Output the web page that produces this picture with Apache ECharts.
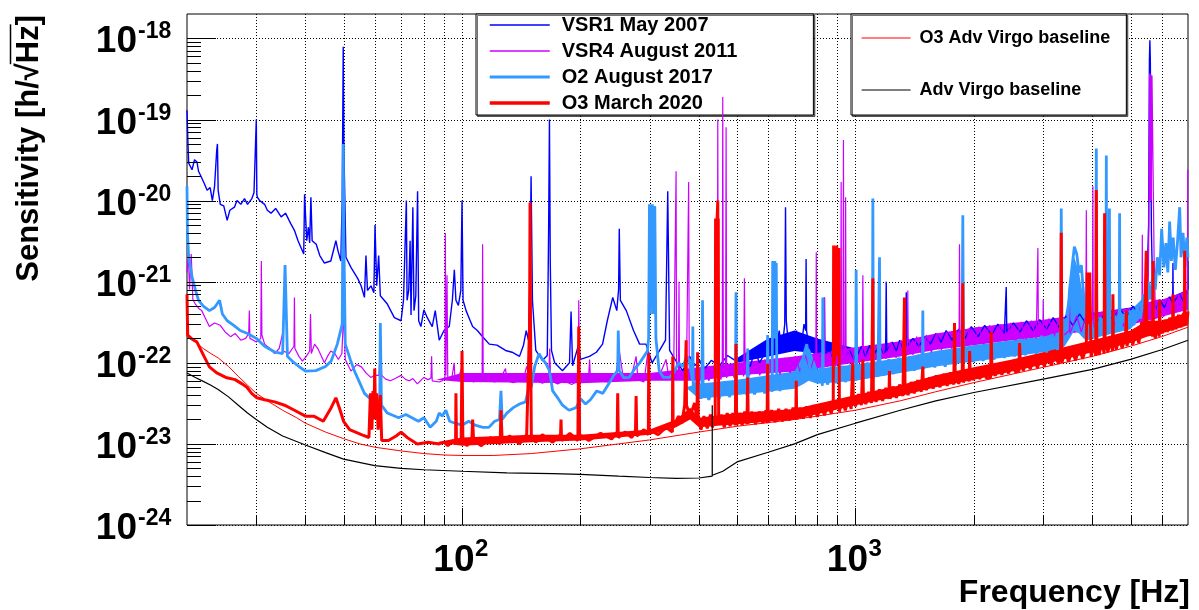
<!DOCTYPE html>
<html><head><meta charset="utf-8">
<script src="https://cdn.jsdelivr.net/npm/echarts@6/dist/echarts.min.js"></script>
<style>html,body{margin:0;padding:0;background:#fff}#c{width:1199px;height:610px}</style>
</head><body><div id="c"></div>
<script>
const FONT = '"Liberation Sans", Arial, Helvetica, sans-serif';

// ---- data: [frequency Hz, sensitivity] ----
const vsr1 = [[20,1.3e-19],[20.1,5.5e-20],[20.2,2.9e-20],[20.6,2.4e-20],[20.9,3.2e-20],[21.2,3e-20],[21.4,2.3e-20],[21.7,2e-20],[22.1,1.65e-20],[22.5,1.34e-20],[22.9,1.45e-20],[23.2,1e-20],[23.5,1.5e-20],[23.8,4.2e-20],[23.9,5e-20],[24.0,1.34e-20],[24.3,9e-21],[24.8,8.6e-21],[25.3,5.7e-21],[25.7,7.6e-21],[26.4,8.3e-21],[26.8,1e-20],[27.4,9e-21],[28,1.06e-20],[28.5,9e-21],[29.2,1.05e-20],[29.6,1.25e-20],[29.9,1.3e-20],[30.0,1e-19],[30.1,1.2e-20],[30.2,1.1e-20],[30.6,1e-20],[31.5,9e-21],[32,7.6e-21],[32.7,7e-21],[33.6,8e-21],[34.7,6.3e-21],[35.6,7e-21],[36.7,5.2e-21],[37.5,4.3e-21],[38.3,3.2e-21],[39.6,2.2e-21],[39.8,1.2e-20],[40.1,1.2e-20],[40.3,3.2e-21],[40.7,4.7e-21],[41,3e-21],[41.3,1.1e-20],[41.6,3.2e-21],[42.6,2.9e-21],[43.5,2.1e-21],[44.7,1.7e-21],[46.4,1.8e-21],[47.8,3.2e-21],[48.4,2.4e-21],[49.2,1.8e-21],[49.6,1e-20],[49.9,7.9e-19],[50.1,4.2e-20],[50.7,2e-21],[52.2,1.5e-21],[54.3,1.1e-21],[55.4,8.9e-22],[56.5,6.4e-22],[57,2.1e-21],[57.5,7.8e-22],[58.7,8.9e-22],[59.7,7.3e-22],[60.1,5e-21],[60.7,8.9e-22],[61.4,2.1e-21],[62,6.7e-22],[64.6,5.3e-22],[67.3,3.6e-22],[70,3.3e-22],[71,5.9e-22],[72.2,1e-20],[72.5,5.9e-22],[73.2,7.8e-22],[73.8,3.2e-21],[74.2,3.9e-22],[75,8.3e-21],[75.5,4.4e-22],[76.3,6.7e-22],[77.1,1.3e-20],[77.6,3.3e-22],[78.6,2.8e-22],[80,4.5e-22],[81.6,3.6e-22],[84,2.8e-22],[85.5,4.4e-22],[87.5,1.9e-22],[90,2.5e-22],[92.8,2.8e-22],[94.5,5.9e-22],[95.6,1.4e-21],[96.5,5.9e-22],[97.9,5.1e-22],[99.3,7.8e-22],[100,1e-20],[100.6,5.9e-22],[102.4,4.4e-22],[104.4,3.5e-22],[106.4,2.8e-22],[109.4,2.5e-22],[112.8,2.1e-22],[117.3,1.7e-22],[122.7,1.65e-22],[129,1.42e-22],[134,1.35e-22],[140,1.2e-22],[143.3,1.65e-22],[145.6,2.5e-22],[147.5,1.9e-22],[148.8,1e-21],[149.8,2e-20],[151,5.9e-22],[154,1.42e-22],[160,1.07e-22],[164.7,1.23e-22],[166,4.3e-21],[166.8,1e-19],[167.6,1.8e-21],[168.8,1.42e-22],[172,1e-22],[180,8e-23],[187.6,1e-22],[189.3,4.3e-22],[191,9.2e-23],[198,1.7e-22],[200,1.1e-22],[210.8,1.2e-22],[219.5,1.35e-22],[227.6,1.7e-22],[234,3.3e-22],[241.6,6.4e-22],[247.4,4.4e-22],[250,8e-22],[251,4.5e-21],[252.6,5.9e-22],[261.5,4.4e-22],[272.8,2.5e-22],[282.7,1.7e-22],[293.4,1.7e-22],[304.2,1e-22],[317.8,1.42e-22],[329,1.9e-22],[333.3,1.3e-20],[337,1.42e-22],[349,1.07e-22],[364,8e-23],[378.8,1.2e-22],
[390,9.2e-23],[402,1.07e-22],[414,8.5e-23],[430,1.07e-22],[451,9.2e-23],[473,1.23e-22],[494,1.07e-22],[519,1.14e-22],[540,9e-23],[555,1.42e-22],[570,1e-22],[584,1.23e-22],[604,1.9e-22],[612,1.2e-22],[620,3.3e-22],[630,1.6e-22],[640,2.5e-22],[650,1.4e-22],[661,3e-22],[664,8.3e-21],[667,3.3e-22],[676,1.6e-22],[684,2.2e-22],[695,1.5e-22],[708,2.5e-22],[718,1.4e-22],[729,1.65e-22],[740,3e-22],[747,2.5e-22],[749,1.9e-21],[751,2.5e-22],[762,1.5e-22],[772,1.65e-22],[785,1.3e-22],[800,1.9e-22],[815,1.2e-22],[826,1.6e-22],[832,1.3e-22],[834,6.4e-22],[836,1.3e-22],[860,1.42e-22],[880,1.1e-22],[910,1.65e-22],[940,1.2e-22],[967,1.42e-22],[990,1.1e-22],[1001,1.3e-22],[1004,6.4e-22],[1007,1.2e-22],[1036,1.6e-22],[1060,1.2e-22],[1086,1.65e-22],[1110,1.25e-22],[1152,1.6e-22],[1180,1.3e-22],[1193,1.4e-22],[1197,1e-21],[1201,1.4e-22],[1240,1.8e-22],[1270,1.4e-22],[1295,1.9e-22],[1320,1.5e-22],[1342,1.6e-22],[1346,7.4e-22],[1350,1.6e-22],[1400,2e-22],[1450,1.6e-22],[1500,2.1e-22],[1550,1.7e-22],[1600,2.3e-22],[1650,1.8e-22],[1700,2.5e-22],[1760,1.9e-22],[1830,2.6e-22],[1900,2e-22],[1970,2.8e-22],[2050,2.1e-22],[2130,2.9e-22],[2220,2.2e-22],[2300,3e-22],[2390,2.3e-22],[2408,2.4e-22],[2416,8.6e-22],[2424,2.4e-22],[2520,3.1e-22],[2620,2.4e-22],[2720,3.3e-22],[2830,2.5e-22],[2940,3.4e-22],[3060,2.6e-22],[3180,3.6e-22],[3300,2.7e-22],[3430,3.8e-22],[3570,2.9e-22],[3710,4e-22],[3860,3e-22],[4010,4.2e-22],[4170,3.2e-22],[4340,4.4e-22],[4510,3.4e-22],[4690,4.7e-22],[4880,3.6e-22],[5070,5e-22],[5270,3.9e-22],[5400,5.5e-22],[5500,7.8e-22],[5560,5.2e-21],[5585,5.4e-19],[5600,9.5e-19],[5615,5.4e-19],[5650,4.3e-21],[5700,5.9e-22],[5800,4.5e-22],[5930,6e-22],[6100,4.8e-22],[6280,6.5e-22],[6400,5.5e-22],[6410,1.7e-21],[6420,5.5e-22],[6660,7e-22],[6850,5.5e-22],[6985,8e-22],[6993,1.8e-21],[7000,8e-22]];

const vsr4 = [[20,1.3e-21],[20.15,2.2e-21],[20.3,8e-22],[20.5,2.2e-21],[20.7,6e-22],[21,5.3e-22],[21.5,4.6e-22],[21.8,4.4e-22],[22.3,3.5e-22],[22.8,2.8e-22],[23.5,3.1e-22],[24.3,2.9e-22],[25,2.4e-22],[25.8,2.1e-22],[26.5,2.3e-22],[27.4,1.9e-22],[28.2,2e-22],[28.7,2.3e-22],[28.8,4.4e-22],[28.9,2e-22],[29.5,1.9e-22],[30,1.8e-22],[30.8,2e-22],[30.9,1.8e-21],[31,2.2e-22],[31.5,1.7e-22],[32.5,1.5e-22],[33.4,1.3e-22],[34.3,1.5e-22],[35,2.3e-22],[35.1,1.4e-22],[36.3,1.3e-22],[37.4,1.6e-22],[37.5,6.4e-22],[37.6,1.5e-22],[38.5,1.2e-22],[39.3,1.05e-22],[40.2,1.2e-22],[41,1.4e-22],[41.2,4e-22],[41.4,1.3e-22],[42.2,1.7e-22],[43,1.5e-22],[44.7,1e-22],[45.5,1.2e-22],[46.4,1.4e-22],[47.5,1.3e-22],[48.5,1.1e-22],[49.5,1.3e-22],[50,4e-22],[50.5,1.1e-22],[52.2,7.9e-23],[54,9.5e-23],[55.5,8.9e-23],[57,7.5e-23],[58.6,6.6e-23],[60,7e-23],[61.5,7e-23],[62,1.7e-22],[62.5,7e-23],[64,6.3e-23],[65.8,6e-23],[68,6.5e-23],[70,7e-23],[72,6.2e-23],[73.5,6e-23],[75,6.4e-23],[77,5.5e-23],[80,6.6e-23],[82,6.2e-23],[83.4,6.5e-23],[83.7,1.2e-22],[84,6e-23],[87.5,5.8e-23],[89,6e-23],[90.5,6.5e-23],[90.7,4e-21],[91,7e-23],[91.6,1.2e-21],[92,6.5e-23],[94,6e-23],[95.5,1e-22],[96,6e-23],[98,6.5e-23],[100,9e-23],[101,6e-23],[104,6.3e-23],[107,5.8e-23],[110,6.2e-23],[112.5,6.5e-23],[112.8,2.9e-21],[113.2,6.8e-23],[117,6.2e-23],[121,5.8e-23],[125,6.3e-23],[129,8.5e-23],[130,6e-23],[135,5.7e-23],[140,6e-23],[144,7e-23],[146,9e-23],[148.3,7e-23],[149,2.5e-22],[150,7e-23],[155,6e-23],[160,5.6e-23],[166,6e-23],[167,1.5e-22],[168,6e-23],[175,5.5e-23],[182,6e-23],[190,5.4e-23],[197.5,6e-23],[198,5.9e-22],[199,6e-23],[206,6.3e-23],[210,7.5e-23],[211,1.1e-22],[212,6.5e-23],[222,6e-23],[235,5.8e-23],[245,6.2e-23],[251,1.4e-22],[257,6.5e-23],[268,6e-23],[277,1.2e-22],[280,6.2e-23],[290,5.8e-23],[297,1.4e-22],[300,6.5e-23],[315,6.3e-23],[330,1.1e-22],[335,6.8e-23],[345,7e-23],[349,7e-23],[350,2.3e-20],[351,8e-23],[355,7.5e-23],[356,1e-21],[357,7.5e-23],[365,7e-23],[372,7.5e-23],[376.7,1.7e-20],[378,8e-23],[385,7.5e-23],
[400,5.6e-23],[412,8.8e-23],[424,6e-23],[437,9e-23],[444,6.5e-23],[445.5,8e-23],[446.7,1e-19],[448,8e-23],[455,6.2e-23],[458.5,8e-23],[459.9,1.9e-19],[461.5,9e-23],[467.5,8e-23],[469,8e-20],[470.5,6.5e-23],[478,9.5e-23],[492,6.5e-23],[495.5,8e-23],[497,2e-22],[498.5,7e-23],[507,1e-22],[520,6.8e-23],[522,1.1e-21],[524,1e-22],[538,7e-23],[554,1.05e-22],[571,7e-23],[588,1.1e-22],[606,7.5e-23],[624,1.12e-22],[643,7.2e-23],[662,1.15e-22],[682,7.5e-23],[702,1.2e-22],[723,7.8e-23],[745,1.25e-22],[767,8e-23],[790,1.3e-22],[793,1e-22],[795,2.3e-21],[797,9e-23],[814,1.35e-22],[826,8.5e-23],[832,1e-22],[834,6.4e-22],[836,1.1e-22],[850,9e-23],[870,1.4e-22],[890,9e-23],[905,1.45e-22],[917,1e-22],[919.5,1.7e-20],[922,1e-22],[929.5,1.2e-22],[932,5.6e-20],[934.5,1.4e-22],[941.5,1e-22],[944,1.1e-20],[946.5,1e-22],[960,1.5e-22],[980,9.5e-23],[1000,1.55e-22],[1020,1e-22],[1041,1.1e-22],[1044,1.2e-21],[1047,1.6e-22],[1075,1.05e-22],[1100,1.65e-22],[1126,1.08e-22],[1160,1.7e-22],[1195,1.12e-22],[1231,1.8e-22],[1268,1.15e-22],[1306,1.9e-22],[1340,1.2e-22],[1355,1.3e-22],[1358,7.8e-22],[1361,2e-22],[1400,1.25e-22],[1430,2.1e-22],[1470,1.3e-22],[1514,2.2e-22],[1559,1.35e-22],[1606,2.3e-22],[1654,1.45e-22],[1704,2.4e-22],[1755,1.5e-22],[1808,2.5e-22],[1833,1.6e-22],[1838,2.9e-21],[1843,2.6e-22],[1900,1.6e-22],[1950,2.7e-22],[2000,1.65e-22],[2060,2.8e-22],[2120,1.7e-22],[2190,2.9e-22],[2260,1.8e-22],[2330,3e-22],[2400,1.85e-22],[2480,3.1e-22],[2560,1.9e-22],[2640,3.2e-22],[2720,1.95e-22],[2800,3.3e-22],[2880,2e-22],[2901,2.1e-22],[2908,2.6e-21],[2915,3.3e-22],[2960,2.05e-22],[2993,2.2e-22],[3000,6e-22],[3007,2.1e-22],[3100,3.5e-22],[3200,2.1e-22],[3300,3.6e-22],[3400,2.2e-22],[3490,2.5e-22],[3500,5e-22],[3510,2.3e-22],[3650,3.8e-22],[3750,2.4e-22],[3850,3.8e-22],[3861,7.6e-21],[3872,2.4e-22],[3950,3.9e-22],[4002,2.5e-22],[4012,1.5e-20],[4022,2.5e-22],[4150,4.1e-22],[4270,2.6e-22],[4390,4.3e-22],[4520,2.7e-22],[4650,4.5e-22],[4790,2.8e-22],[4940,4.7e-22],[5090,2.95e-22],[5240,5e-22],[5345,3.2e-22],[5358,3.8e-21],[5371,3.2e-22],[5450,5.5e-22],[5540,4e-22],[5565,4e-21],[5591,3.7e-19],[5610,1e-20],[5630,3.6e-19],[5650,1e-20],[5670,3.5e-19],[5700,3.5e-19],[5740,2e-21],[5790,3.5e-22],[5900,6e-22],[6070,3.7e-22],[6250,6.3e-22],[6440,4e-22],[6640,7e-22],[6840,4.5e-22],[6975,7.8e-22],[6990,2.4e-20],[7000,2.4e-20]];

const o2 = [[20,1.5e-20],[20.05,4e-21],[20.2,2e-21],[20.6,1.15e-21],[21,8e-22],[21.4,5.9e-22],[22,5e-22],[22.8,4.4e-22],[23.5,4.8e-22],[24.2,5.9e-22],[24.6,4e-22],[25.3,3.3e-22],[26.3,2.9e-22],[27.3,2.5e-22],[28.5,2.3e-22],[30,2e-22],[31.5,1.6e-22],[33.5,1.35e-22],[35,1.3e-22],[35.5,1.6e-21],[36,1.2e-22],[37,1.05e-22],[38.5,9e-23],[40,7.9e-23],[42.5,8e-23],[45,9e-23],[46.5,1.05e-22],[48.2,1.7e-22],[49.6,3e-22],[49.8,5e-21],[49.9,5e-20],[50.1,3e-21],[50.5,1.7e-22],[52,1.1e-22],[53.3,7.9e-23],[56.5,4.2e-23],[60,3.2e-23],[61.8,3.3e-23],[62,3.1e-22],[62.4,3e-23],[64.6,2.4e-23],[69,2.1e-23],[72,2.3e-23],[77.5,1.9e-23],[80,2.1e-23],[83,1.6e-23],[86,1.9e-23],[87.5,2.4e-23],[89,2.2e-23],[91,2.6e-23],[93,1.9e-23],[96,1.8e-23],[100,1.7e-23],[104,1.9e-23],[108,1.7e-23],[113,1.6e-23],[117,1.6e-23],[121,1.9e-23],[124.5,2e-23],[125.6,4.5e-23],[126.5,2e-23],[130,2.4e-23],[135,2.8e-23],[140,3.1e-23],[145,3.3e-23],[148,5e-23],[148.7,1e-22],[150,5e-23],[153,9e-23],[157,1.3e-22],[160,1.1e-22],[163,1e-22],[166.8,8e-23],[170,4.5e-23],[175,3.7e-23],[180,3e-23],[187,2.6e-23],[195,2.8e-23],[200,3.6e-23],[206,3.1e-23],[212,3.5e-23],[220,4.5e-23],[228,4.2e-23],[236,5.5e-23],[243,7e-23],[248.7,8e-23],[249.5,2.5e-22],[251,8e-23],[258,6.5e-23],[266,6.6e-23],[275,8.5e-23],[283,1e-22],[290,1.2e-22],[296,1.4e-22],[298,2e-22],[299.5,9e-21],[300.8,4e-22],[302,8e-21],[303.3,5e-22],[304.6,9e-21],[306,4e-22],[307.4,8e-21],[309,8.5e-21],[311,2e-22],[317,8e-23],[325,6.6e-23],[337,6.6e-23],[345,7.5e-23],[355,1e-22],[365,9e-23],[372,1.2e-22],[378,1.1e-22],
[385,6e-23],[386,2.8e-22],[387,4.5e-23],[396,6.2e-23],[404,3.6e-23],[407,5e-23],[408.6,5.9e-22],[410,5.5e-23],[424,3.5e-23],[437,5.6e-23],[450,3.6e-23],[464,5.8e-23],[478,3.8e-23],[495.5,6e-23],[497,7.4e-22],[498.5,4e-23],[515,6.2e-23],[530,4e-23],[532,1.5e-22],[534,6.3e-23],[554,4.1e-23],[571,6.5e-23],[588,4.2e-23],[596,5e-23],[598,2.2e-22],[600,6.8e-23],[614,4.4e-23],[616,1.8e-21],[618,2e-22],[620,1.7e-21],[622,2e-22],[624,1.8e-21],[626,2e-22],[629,1.7e-21],[631,7e-23],[643,4.5e-23],[662,7.2e-23],[682,4.8e-23],[702,7.8e-23],[723,5.5e-23],[740,1.3e-22],[752,1.7e-22],[767,8e-23],[790,6e-23],[814,8.5e-23],[824,5.2e-23],[826,6.4e-22],[828,8.5e-23],[850,5.4e-23],[870,9e-23],[895,5.6e-23],[920,9.2e-23],[943,5.8e-23],[971,9.5e-23],[1001,6e-23],[1004,1.4e-21],[1007,9.8e-23],[1040,6.2e-23],[1070,1e-22],[1104,6.5e-23],[1107,1.06e-20],[1110,1.05e-22],[1140,6.8e-23],[1148,7e-23],[1151,2e-21],[1154,1.05e-22],[1180,7e-23],[1215,1.1e-22],[1250,7.3e-23],[1290,1.15e-22],[1330,7.6e-23],[1370,1.2e-22],[1410,8e-23],[1450,1.25e-22],[1479,8.2e-23],[1483,4.4e-22],[1487,8.4e-23],[1540,1.3e-22],[1590,8.8e-23],[1640,1.4e-22],[1690,9e-23],[1740,1.45e-22],[1790,9.3e-23],[1866,1.5e-22],[1874,6.6e-21],[1882,1e-22],[1930,1.55e-22],[1990,1.03e-22],[2050,1.65e-22],[2110,1.06e-22],[2180,1.7e-22],[2250,1.1e-22],[2320,1.8e-22],[2390,1.15e-22],[2460,1.85e-22],[2540,1.2e-22],[2620,1.95e-22],[2700,1.25e-22],[2790,2e-22],[2880,1.3e-22],[2970,2.15e-22],[3060,1.35e-22],[3160,2.25e-22],[3260,1.45e-22],[3322,2.4e-22],[3334,8e-21],[3346,1.6e-22],[3400,3.5e-22],[3450,2.5e-22],[3500,8e-22],[3550,1.5e-21],[3600,2.7e-21],[3650,2.2e-21],[3700,1.3e-21],[3750,1.6e-21],[3800,7e-22],[3850,4e-22],[3900,2.2e-22],[3960,3.5e-22],[4040,2e-22],[4083,3e-22],[4093,4.4e-20],[4103,2.5e-22],[4200,3.6e-22],[4297,2.2e-22],[4330,3e-22],[4340,3.6e-20],[4350,3.4e-22],[4410,2.5e-22],[4420,8e-21],[4430,2.4e-22],[4560,3.8e-22],[4680,2.6e-22],[4691,7e-21],[4702,2.5e-22],[4800,4e-22],[4900,2.6e-22],[5000,4.4e-22],[5100,2.9e-22],[5200,5e-22],[5300,3.5e-22],[5400,7e-22],[5480,4.5e-22],[5550,1e-21],[5620,6e-22],[5700,1.3e-21],[5780,8e-22],[5850,2e-21],[5929,1.2e-21],[6000,4.5e-21],[6080,1.5e-21],[6150,3e-21],[6220,1.3e-21],[6287,5.5e-21],[6350,1.8e-21],[6420,3.5e-21],[6500,1.4e-21],[6580,3e-21],[6668,8.3e-21],[6720,2e-21],[6800,4e-21],[6880,1.5e-21],[6950,3.5e-21],[7000,2e-21]];

const o3 = [[20,7e-22],[20.08,2.2e-22],[20.5,2e-22],[21.2,1.8e-22],[22.1,1.2e-22],[22.8,8.9e-23],[23.8,7.5e-23],[25.1,6.6e-23],[26.5,6.2e-23],[27.6,5.5e-23],[28.4,5e-23],[29.2,4.2e-23],[30.1,3.7e-23],[31.5,3.5e-23],[33.4,3.3e-23],[35.4,3e-23],[37.5,2.6e-23],[40,2.2e-23],[42,2.2e-23],[44.4,1.9e-23],[46.5,2.8e-23],[47.8,3.7e-23],[49,2.6e-23],[50,1.9e-23],[51.8,1.5e-23],[55.5,1.3e-23],[58,1.2e-23],[58.5,4.2e-23],[59,1.5e-23],[59.4,4.5e-23],[59.7,2e-23],[60,8.5e-23],[60.3,2e-23],[60.7,4.2e-23],[61.2,1.5e-23],[62,4e-23],[62.5,1.1e-23],[65,1.1e-23],[68,1.25e-23],[70,1.4e-23],[72.5,1.2e-23],[77,1e-23],[82,1.05e-23],[87.5,1e-23],[90,1.05e-23],[92,9.5e-24],[95,1.1e-23],[96.3,1e-23],[96.5,4.2e-23],[96.8,1e-23],[99.5,1.1e-23],[100,1.4e-22],[100.5,1.1e-23],[103,9.5e-24],[106,1.2e-23],[106.4,2e-23],[107,1.1e-23],[112,9.5e-24],[118,1.2e-23],[125,1e-23],[125.6,2.6e-23],[126.5,1.05e-23],[132,1.25e-23],[140,1e-23],[146,1.3e-23],[148.5,3e-22],[148.9,9.5e-21],[149.3,3e-22],[150,1.3e-23],[154,1.05e-23],[160,1.3e-23],[170,1.05e-23],[178,1.3e-23],[178.5,2e-23],[179,1.1e-23],[188,1.35e-23],[197,1.1e-23],[198,2.8e-22],[199,1.3e-23],[210,1.1e-23],[225,1.35e-23],[240,1.15e-23],[248,1.4e-23],[248.7,4.2e-23],[249.5,1.2e-23],[260,1.4e-23],[270,1.2e-23],[276,1.45e-23],[277,3.9e-23],[278,1.25e-23],[290,1.5e-23],[297.5,1.3e-23],[298.3,1.3e-22],[299,1.5e-23],[315,1.3e-23],[330,1.6e-23],[342.5,1.4e-23],[343.2,1.2e-22],[344,1.6e-23],[355,2.2e-23],[362,1.8e-23],[368,3e-23],[371.2,1.9e-22],[372,3e-23],[380,2.2e-23],[390,3.2e-23],[395.5,2e-23],[397,1.35e-22],[398.5,2.2e-23],
[405,1.5e-23],[412,2.2e-23],[420,1.55e-23],[428,2.3e-23],[433,1.6e-23],[440,2.2e-23],[441,6e-21],[442,1e-22],[443,6e-21],[444,1e-22],[445,6e-21],[446.7,1e-20],[447.5,2e-22],[448,6e-21],[449,1.8e-23],[456,2.3e-23],[464,1.6e-23],[472,2.4e-23],[480,1.65e-23],[488,2.4e-23],[495,1.7e-23],[497,1.7e-22],[499,1.7e-23],[507,2.4e-23],[515,1.7e-23],[523,2.5e-23],[530,1.75e-23],[532,6.6e-23],[534,1.8e-23],[545,2.5e-23],[557,1.75e-23],[570,2.5e-23],[582,1.8e-23],[592,2.6e-23],[596,1.8e-23],[598,9.7e-23],[600,1.85e-23],[612,2.6e-23],[625,1.85e-23],[638,2.7e-23],[652,1.9e-23],[666,2.7e-23],[680,1.95e-23],[694,2.8e-23],[705,2e-23],[707,6e-23],[709,2e-23],[722,2.8e-23],[737,2.05e-23],[752,2.9e-23],[768,2.1e-23],[784,3e-23],[800,2.15e-23],[817,3.1e-23],[834,2.25e-23],[851,3.2e-23],[868,2.35e-23],[878,3.3e-23],[880,2.8e-21],[884,1e-22],[888,2.5e-21],[892,1.5e-22],[896,2.8e-21],[900,1.2e-22],[904,2.4e-21],[908,2.6e-21],[910,2.5e-23],[925,3.5e-23],[942,2.6e-23],[960,3.7e-23],[975,2.7e-23],[981,2.8e-23],[984,1e-22],[987,3.8e-23],[1000,2.9e-23],[1018,4.1e-23],[1035,3e-23],[1041,3.1e-23],[1044,1.1e-22],[1047,4.2e-23],[1062,3.1e-23],[1080,4.4e-23],[1098,3.2e-23],[1104,3.3e-23],[1107,1.1e-21],[1110,4.5e-23],[1128,3.3e-23],[1150,4.7e-23],[1172,3.4e-23],[1195,4.9e-23],[1216,3.6e-23],[1220,7.9e-23],[1224,3.6e-23],[1245,5.1e-23],[1270,3.7e-23],[1295,5.4e-23],[1320,3.9e-23],[1328,4e-23],[1332,6.4e-22],[1336,5.5e-23],[1360,4e-23],[1385,5.8e-23],[1410,4.2e-23],[1440,6.1e-23],[1470,4.4e-23],[1480,4.5e-23],[1483,9e-23],[1486,6.3e-23],[1515,4.6e-23],[1545,6.6e-23],[1575,4.8e-23],[1605,7e-23],[1640,5e-23],[1675,7.3e-23],[1710,5.2e-23],[1745,7.6e-23],[1778,5.4e-23],[1785,3.1e-22],[1792,7.8e-23],[1830,5.5e-23],[1868,8e-23],[1874,9.6e-22],[1880,5.7e-23],[1910,8.3e-23],[1945,5.9e-23],[1950,1.4e-22],[1955,8.5e-23],[1990,6.1e-23],[2030,8.8e-23],[2070,6.3e-23],[2110,9e-23],[2150,6.5e-23],[2205,6.6e-23],[2213,2.4e-22],[2221,9.3e-23],[2265,6.9e-23],[2310,9.7e-23],[2355,7.1e-23],[2400,1e-22],[2450,7.4e-23],[2500,1.05e-22],[2550,7.7e-23],[2602,7.9e-23],[2612,1.75e-22],[2622,1.1e-22],[2670,8e-23],[2720,1.13e-22],[2780,8.3e-23],[2840,1.18e-22],[2900,8.6e-23],[2960,1.22e-22],[3020,9e-23],[3080,1.27e-22],[3145,9.3e-23],[3210,1.32e-22],[3280,9.7e-23],[3322,1.35e-22],[3334,4e-21],[3346,1e-22],[3410,1.42e-22],[3480,1.03e-22],[3550,1.47e-22],[3625,1.07e-22],[3700,1.53e-22],[3780,1.12e-22],[3860,1.58e-22],[3880,1.3e-21],[3895,3e-22],[3910,1.2e-21],[3925,3e-22],[3940,1.3e-21],[3955,1.3e-21],[3970,1.18e-22],[4030,1.7e-22],[4080,1.22e-22],[4093,1.35e-20],[4106,1.8e-22],[4160,1.25e-22],[4230,1.85e-22],[4285,1.3e-22],[4297,7e-21],[4309,1.9e-22],[4380,1.35e-22],[4450,1.95e-22],[4500,1.4e-22],[4511,7e-22],[4522,2e-22],[4600,1.45e-22],[4680,2.1e-22],[4760,1.52e-22],[4860,2.2e-22],[4879,4.4e-22],[4898,1.6e-22],[4980,2.3e-22],[5070,1.68e-22],[5160,2.45e-22],[5250,1.75e-22],[5340,3.2e-22],[5420,2.1e-22],[5470,2.2e-22],[5483,2.4e-21],[5496,3.4e-22],[5560,2.3e-22],[5630,3.3e-22],[5690,2.1e-22],[5702,1.8e-21],[5714,3e-22],[5780,2e-22],[5860,3.1e-22],[5915,2.1e-22],[5929,5.9e-22],[5943,3.2e-22],[6020,2.3e-22],[6110,3.4e-22],[6200,2.4e-22],[6290,3.6e-22],[6395,2.5e-22],[6410,7e-22],[6425,3.7e-22],[6520,2.6e-22],[6620,3.9e-22],[6720,2.75e-22],[6820,4.1e-22],[6852,2.9e-22],[6866,2.4e-21],[6880,4.2e-22],[6950,3e-22],[7000,4.3e-22]];

const o3Baseline = [[20,2.1e-22],[21,1.8e-22],[22,1.5e-22],[23,1.3e-22],[24,1.15e-22],[25.5,9e-23],[27,6.8e-23],[28.5,5.3e-23],[30,4.2e-23],[32,3.4e-23],[35,2.6e-23],[38,2.1e-23],[40,1.8e-23],[45,1.4e-23],[50,1.16e-23],[55,1e-23],[60,9.1e-24],[70,8.2e-24],[80,7.6e-24],[90,7.3e-24],[100,7.2e-24],[120,7.2e-24],[150,7.6e-24],[200,8.7e-24],[250,1e-23],[300,1.12e-23],[400,1.4e-23],[500,1.65e-23],[700,2e-23],[1000,2.6e-23],[1300,3.4e-23],[1600,4.4e-23],[2000,5.7e-23],[3000,8.8e-23],[4000,1.2e-22],[5000,1.6e-22],[6000,2.1e-22],[7000,2.75e-22]];

const advBaseline = [[20,7.5e-23],[21,6.6e-23],[22,5.9e-23],[23,5.3e-23],[24,4.7e-23],[25.5,3.8e-23],[27,3e-23],[28.5,2.4e-23],[30,2e-23],[32,1.6e-23],[35,1.25e-23],[40,9.7e-24],[45,7.8e-24],[50,6.5e-24],[60,5.4e-24],[70,5e-24],[80,4.8e-24],[100,4.6e-24],[130,4.4e-24],[170,4.3e-24],[200,4.2e-24],[250,4e-24],[300,3.85e-24],[350,3.75e-24],[400,3.8e-24],[432.4,4e-24],[432.5,3e-23],[432.6,4.1e-24],[460,4.6e-24],[500,6e-24],[600,7.9e-24],[700,1e-23],[800,1.3e-23],[1000,1.8e-23],[1300,2.6e-23],[1600,3.4e-23],[2000,4.3e-23],[3000,6.3e-23],[4000,8.3e-23],[5000,1.1e-22],[6000,1.45e-22],[7000,1.9e-22]];

// ---- noise-band envelopes (dense noise seen as filled bands) ----
const vsr1BandF  = [500,600,700,800,1000,1300,1600,2000,3000,4000,5000,6000,7000];
const vsr1BandLo = [1e-22,1.2e-22,1.4e-22,1.3e-22,1.2e-22,1.45e-22,1.7e-22,2e-22,2.5e-22,3e-22,3.6e-22,4.5e-22,5.5e-22];
const vsr1BandHi = [1.15e-22,2e-22,2.5e-22,2e-22,1.5e-22,1.8e-22,2.2e-22,2.7e-22,3.3e-22,4.1e-22,4.8e-22,5.8e-22,8e-22];
const vsr4BandF  = [86,100,200,300,400,500,700,1000,1300,1600,2000,2500,3000,4000,5000,5500,5800,6000,7000];
const vsr4BandLo = [6.2e-23,5.8e-23,5.6e-23,6e-23,6e-23,7e-23,7.8e-23,1e-22,1.2e-22,1.45e-22,1.65e-22,1.9e-22,2.1e-22,2.5e-22,2.95e-22,3.3e-22,3.5e-22,3.7e-22,4.5e-22];
const vsr4BandHi = [6.2e-23,7.5e-23,7.5e-23,7.5e-23,8.8e-23,1e-22,1.2e-22,1.55e-22,1.85e-22,2.3e-22,2.7e-22,3.1e-22,3.4e-22,4.1e-22,4.7e-22,5.5e-22,6e-22,6e-22,7.8e-22];
const o2BandF  = [370,400,500,700,740,760,800,1000,1300,1600,2000,2500,3000,3300,3400,3500,3600,3700,3800,3900,4000,5000,5500];
const o2BandLo = [5e-23,3.6e-23,4e-23,4.8e-23,5.5e-23,6e-23,5.5e-23,6e-23,7.5e-23,9e-23,1.04e-22,1.2e-22,1.35e-22,1.45e-22,1.6e-22,2e-22,2.5e-22,2.3e-22,2e-22,1.9e-22,2e-22,2.6e-22,4.5e-22];
const o2BandHi = [5e-23,5.5e-23,6.2e-23,7.8e-23,1.3e-22,1.6e-22,8.5e-23,9.5e-23,1.15e-22,1.4e-22,1.65e-22,1.9e-22,2.1e-22,2.4e-22,3.5e-22,8e-22,2e-21,1.3e-21,6e-22,3.5e-22,3.5e-22,4.4e-22,7e-22];
const o3BandF  = [86,100,150,200,300,350,380,400,500,700,1000,1300,1600,2000,2500,3000,4000,5000,5500,6000,7000];
const o3BandLo = [1.05e-23,9.5e-24,1.05e-23,1.1e-23,1.3e-23,1.6e-23,2e-23,1.6e-23,1.75e-23,2e-23,3e-23,3.9e-23,5e-23,6.2e-23,7.8e-23,9.5e-23,1.35e-22,1.75e-22,2.1e-22,2.3e-22,2.9e-22];
const o3BandHi = [1.05e-23,1.2e-23,1.3e-23,1.3e-23,1.5e-23,2e-23,2.8e-23,2.1e-23,2.4e-23,2.7e-23,4e-23,5.3e-23,7e-23,8.8e-23,1.1e-22,1.35e-22,1.9e-22,2.5e-22,3.3e-22,3.3e-22,4.2e-22];

// ---- axis ticks ----
const X_MIN = 20, X_MAX = 7000, Y_MIN = 1e-24, Y_MAX = 2e-18;
const xMajorTicks = [100, 1000];
const xMinorTicks = [30,40,50,60,70,80,90,200,300,400,500,600,700,800,900,2000,3000,4000,5000,6000];
const xTickLabels = [[100,'2'],[1000,'3']];
const yDecadeExp = [-24,-23,-22,-21,-20,-19,-18];
const yMinorMult = [2,3,4,5,6,7,8,9];

const names = ['VSR1 May 2007','VSR4 August 2011','O2 August 2017','O3 March 2020','O3 Adv Virgo baseline','Adv Virgo baseline'];
const colors = ['#0000ff','#cc00ff','#3399ff','#ff0000','#ff0000','#000000'];
const widths = [1.4, 1.2, 2.8, 3, 1, 1.2];
const seriesData = [vsr1, vsr4, o2, o3, o3Baseline, advBaseline];
const bands = [[vsr1BandF, vsr1BandLo, vsr1BandHi], [vsr4BandF, vsr4BandLo, vsr4BandHi], [o2BandF, o2BandLo, o2BandHi], [o3BandF, o3BandLo, o3BandHi]];

const chart = echarts.init(document.getElementById('c'));

function gridRender(params, api) {
  const ch = [];
  const p0 = api.coord([X_MIN, Y_MIN]), p1 = api.coord([X_MAX, Y_MAX]);
  const dot = {stroke:'#000', lineWidth:1, lineDash:[1,2]};
  xMajorTicks.concat(xMinorTicks).forEach(f => {
    const x = Math.round(api.coord([f, Y_MIN])[0]) + 0.5;
    ch.push({type:'line', shape:{x1:x, y1:p1[1], x2:x, y2:p0[1]}, style:dot});
  });
  yDecadeExp.forEach(e => {
    const y = Math.round(api.coord([X_MIN, Math.pow(10, e)])[1]) + 0.5;
    ch.push({type:'line', shape:{x1:p0[0], y1:y, x2:p1[0], y2:y}, style:dot});
  });
  return {type:'group', children: ch};
}

function tickRender(params, api) {
  const ch = [];
  const p0 = api.coord([X_MIN, Y_MIN]);
  const left = p0[0], bottom = p0[1];
  const solid = {stroke:'#000', lineWidth:1};
  const L = (x1,y1,x2,y2) => ch.push({type:'line', shape:{x1,y1,x2,y2}, style:solid});
  yDecadeExp.forEach(e => {
    const y = Math.round(api.coord([X_MIN, Math.pow(10, e)])[1]) + 0.5;
    L(left, y, left + 29, y);
    if (e < -18) yMinorMult.forEach(m => {
      const ym = Math.round(api.coord([X_MIN, m * Math.pow(10, e)])[1]) + 0.5;
      L(left, ym, left + 14, ym);
    });
    ch.push({type:'text', x: left - 50, y: y + 3.5, style:{text:'10', font:'bold 37px ' + FONT, fill:'#000', align:'right', verticalAlign:'middle'}});
    ch.push({type:'text', x: left - 49, y: y - 6.5, style:{text:String(e), font:'bold 23px ' + FONT, fill:'#000', align:'left', verticalAlign:'middle'}});
  });
  xMajorTicks.forEach(f => {
    const x = Math.round(api.coord([f, Y_MIN])[0]) + 0.5;
    L(x, bottom, x, bottom - 17);
  });
  xMinorTicks.forEach(f => {
    const x = Math.round(api.coord([f, Y_MIN])[0]) + 0.5;
    L(x, bottom, x, bottom - 10);
  });
  xTickLabels.forEach(([f, ex]) => {
    const x = api.coord([f, Y_MIN])[0];
    ch.push({type:'text', x: x + 12.5, y: bottom + 36, style:{text:'10', font:'bold 37px ' + FONT, fill:'#000', align:'right', verticalAlign:'middle'}});
    ch.push({type:'text', x: x + 13, y: bottom + 24, style:{text:ex, font:'bold 24px ' + FONT, fill:'#000', align:'left', verticalAlign:'middle'}});
  });
  return {type:'group', children: ch};
}

function bandRender(freqs, lo, hi, color) {
  return function (params, api) {
    const pts = [];
    for (let i = 0; i < freqs.length; i++) pts.push(api.coord([freqs[i], hi[i]]));
    for (let i = freqs.length - 1; i >= 0; i--) pts.push(api.coord([freqs[i], lo[i]]));
    return {type:'polygon', shape:{points: pts}, style:{fill: color}};
  };
}

// measure y title for the sqrt overline
const yTitle = 'Sensitivity [h/\u221AHz]';
const TITLE_FONT = 'bold 31px ' + FONT;
const mctx = document.createElement('canvas').getContext('2d');
mctx.font = TITLE_FONT;
const wAll = mctx.measureText(yTitle).width;
const wPre = mctx.measureText('Sensitivity [h/\u221A').width;
const wHz = mctx.measureText('Hz').width;
const yTitleTop = 15, yTitleX = 29;
const olStart = yTitleTop + wAll - wPre + 1, olEnd = yTitleTop + wAll - wPre - wHz - 1;

const series = [{type:'custom', renderItem: gridRender, data:[[X_MIN, Y_MIN]], z:0, silent:true, clip:false}];
names.forEach((n, i) => {
  if (i < 4) {
    const b = bands[i];
    series.push({type:'custom', renderItem: bandRender(b[0], b[1], b[2], colors[i]), data:[[b[0][0], b[1][0]]], z:2, silent:true, clip:true});
  }
  series.push({
    name: n, type: 'line', data: seriesData[i], symbol: 'none', showSymbol: false,
    lineStyle: {color: colors[i], width: widths[i]}, itemStyle: {color: colors[i]},
    z: 2, silent: true, clip: true, animation: false
  });
});
series.push({type:'custom', renderItem: tickRender, data:[[X_MIN, Y_MIN]], z:10, silent:true, clip:false});

const legendCommon = {
  orient: 'vertical', borderColor: '#000', borderWidth: 1, backgroundColor: '#fff',
  shadowColor: 'rgba(0,0,0,0.55)', shadowOffsetX: 1.5, shadowOffsetY: 1.5, shadowBlur: 0,
  selectedMode: false, z: 1, align: 'left',
  itemStyle: {opacity: 0, borderWidth: 0}
};

chart.setOption({
  animation: false,
  backgroundColor: '#fff',
  grid: {left: 187, right: 11, top: 14, bottom: 85, show: true, borderColor: '#000', borderWidth: 1, backgroundColor: 'transparent', containLabel: false},
  xAxis: {type: 'log', logBase: 10, min: X_MIN, max: X_MAX, axisLine:{show:false}, axisTick:{show:false}, axisLabel:{show:false}, splitLine:{show:false}},
  yAxis: {type: 'log', logBase: 10, min: Y_MIN, max: Y_MAX, axisLine:{show:false}, axisTick:{show:false}, axisLabel:{show:false}, splitLine:{show:false}},
  legend: [
    Object.assign({}, legendCommon, {
      left: 476, top: 14, itemWidth: 60, itemHeight: 14, itemGap: 6, padding: [1, 76, 2, 12],
      data: names.slice(0, 4).map((n, i) => ({name: n, lineStyle: {width: [1.5, 1.5, 3, 3.5][i]}})),
      textStyle: {fontSize: 20, fontWeight: 'bold', fontFamily: FONT, color: '#000', lineHeight: 20, padding: [0, 0, 0, 7]}
    }),
    Object.assign({}, legendCommon, {
      left: 851, top: 14, itemWidth: 49, itemHeight: 14, itemGap: 34, padding: [15, 16, 16, 10],
      data: names.slice(4).map(n => ({name: n, lineStyle: {width: 1.2}})),
      textStyle: {fontSize: 18, fontWeight: 'bold', fontFamily: FONT, color: '#000', lineHeight: 18, padding: [0, 0, 0, 4]}
    })
  ],
  graphic: [
    {type: 'text', x: 1190, y: 593, style: {text: 'Frequency [Hz]', font: 'bold 32px ' + FONT, fill: '#000', align: 'right', verticalAlign: 'middle'}},
    {type: 'text', x: yTitleX, y: yTitleTop, rotation: Math.PI / 2, style: {text: yTitle, font: TITLE_FONT, fill: '#000', align: 'right', verticalAlign: 'middle'}},
    {type: 'line', shape: {x1: 10.5, y1: olStart, x2: 10.5, y2: olEnd}, style: {stroke: '#000', lineWidth: 1.5}}
  ],
  series: series
});
</script>
</body></html>
